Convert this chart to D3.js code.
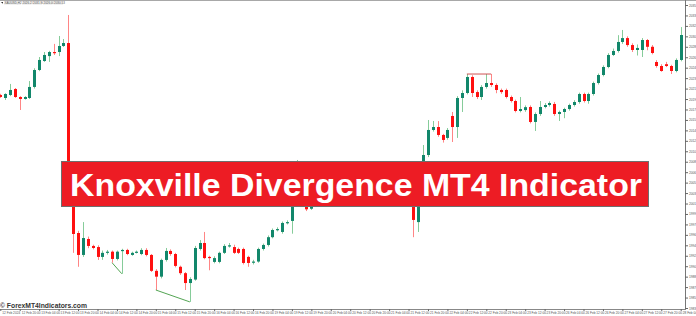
<!DOCTYPE html>
<html>
<head>
<meta charset="utf-8">
<script src="https://cdn.jsdelivr.net/npm/d3@7"></script>
<style>
  html, body { margin: 0; padding: 0; background: #fff; }
  svg { display: block; }
</style>
</head>
<body>
<div id="chart"></div>
<script>
// XAUUSD H2 candles (index = bar number from the left)
var opens = [2020.2,2019.68,2020.2,2021.23,2019.85,2019.51,2019.68,2021.58,2024.5,2026.05,2026.9,2027.6,2027.6,2028.64,2029.15,2001.0,1996.42,1992.64,1995.39,1994.19,
  1994.0,1992.3,1993.0,1993.2,1991.95,1993.3,1993.5,1992.64,1993.1,1992.8,1993.5,1992.64,1989.9,1988.9,1991.78,1993.33,1992.8,1990.6,1989.5,1987.8,
  1988.4,1993.67,1994.7,1992.3,1991.44,1991.44,1993.0,1994.19,1994.0,1993.67,1993.67,1992.3,1991.3,1991.5,1993.67,1994.36,1995.7,1996.9,1996.6,1998.15,
  1998.5,2002.0,2005.5,2003.0,2000.6,2001.5,2003.0,2004.5,2003.6,2005.8,2006.9,2005.9,2004.8,2005.5,2004.2,2004.9,2006.3,2007.0,2006.1,2006.8,
  2005.4,2005.9,2004.6,2005.3,2004.0,2003.0,1998.3,2003.5,2009.86,2014.17,2014.68,2013.31,2012.8,2016.58,2014.68,2019.68,2020.54,2023.3,2020.7,2019.85,
  2021.58,2022.26,2021.92,2021.06,2021.06,2019.85,2019.16,2017.44,2017.6,2018.13,2015.55,2016.92,2018.13,2018.47,2018.65,2016.92,2017.27,2017.78,2018.47,2018.99,
  2020.37,2019.16,2020.37,2022.26,2023.64,2025.02,2027.09,2027.78,2029.33,2030.0,2028.8,2027.95,2027.95,2029.67,2028.5,2025.88,2025.19,2025.5,2025.19,2024.33,
  2026.23];
var highs = [2020.4,2020.5,2022.1,2021.4,2020.0,2020.0,2022.6,2024.8,2026.74,2027.6,2027.8,2029.0,2030.36,2029.84,2033.98,2001.5,1996.8,1998.3,1995.8,1994.4,
  1994.3,1993.4,1993.5,1993.4,1993.4,1993.7,1993.7,1993.2,1993.4,1993.8,1993.8,1992.8,1990.2,1992.0,1993.84,1993.6,1993.0,1990.8,1989.7,1988.8,
  1994.2,1995.2,1996.6,1992.5,1992.4,1993.2,1994.5,1994.7,1994.4,1993.9,1993.9,1992.5,1991.8,1993.9,1994.6,1996.0,1997.2,1997.4,1998.4,1998.6,
  2003.0,2009.0,2006.5,2003.4,2002.5,2003.5,2005.0,2005.2,2006.3,2007.5,2007.3,2006.2,2006.0,2005.8,2005.3,2006.7,2007.6,2007.4,2007.2,2007.1,
  2006.3,2006.2,2005.7,2005.6,2004.4,2003.5,2005.0,2011.58,2015.89,2015.72,2015.7,2013.5,2014.5,2017.27,2020.0,2021.0,2023.81,2023.6,2021.0,2021.9,
  2023.81,2023.81,2022.2,2021.3,2021.3,2020.1,2019.4,2019.85,2018.4,2018.4,2017.2,2019.16,2018.8,2019.1,2019.0,2017.5,2018.0,2018.7,2019.3,2020.6,
  2020.6,2020.6,2022.5,2023.9,2025.3,2027.4,2028.2,2030.5,2031.4,2030.3,2029.1,2028.9,2030.0,2029.84,2028.8,2026.2,2025.5,2025.9,2025.4,2026.5,
  2031.9];
var lows = [2019.7,2019.34,2020.0,2019.7,2017.61,2019.4,2019.5,2021.3,2024.3,2025.9,2025.9,2027.09,2026.9,2028.47,2001.6,1993.0,1990.6,1992.3,1993.8,1993.6,
  1991.78,1991.8,1992.7,1991.3,1991.7,1989.4,1992.6,1992.5,1992.9,1992.6,1992.4,1989.7,1986.6,1988.6,1991.5,1992.5,1990.5,1989.2,1986.6,1984.55,
  1988.2,1993.4,1991.9,1990.0,1991.2,1991.2,1992.8,1993.9,1992.8,1992.8,1991.0,1990.6,1991.0,1991.3,1993.4,1994.1,1995.5,1996.7,1996.3,1997.9,
  1996.3,2001.5,2002.0,2000.2,2000.4,2001.2,2002.6,2003.2,2003.3,2005.4,2005.5,2004.3,2004.5,2003.8,2003.9,2004.6,2006.0,2005.7,2005.8,2005.0,
  2005.1,2004.2,2004.3,2003.6,2001.5,1995.7,1996.6,2003.0,2009.5,2013.9,2013.0,2012.0,2012.5,2012.1,2012.8,2017.27,2020.3,2019.85,2019.5,2019.34,
  2021.3,2021.6,2020.5,2020.4,2019.6,2018.9,2017.2,2017.2,2017.3,2015.3,2014.0,2016.6,2017.9,2018.2,2016.6,2015.72,2016.2,2017.5,2018.2,2018.7,
  2018.9,2018.7,2020.1,2022.0,2023.4,2024.8,2026.9,2027.5,2029.0,2028.5,2027.6,2027.0,2026.74,2027.9,2027.2,2024.9,2024.2,2025.0,2023.81,2024.1,
  2026.0];
var closes = [2019.85,2020.37,2021.06,2019.85,2019.51,2019.85,2021.58,2024.5,2026.23,2027.09,2027.6,2027.5,2028.64,2029.15,2002.1,1996.25,1992.64,1995.56,1994.19,1993.84,
  1992.3,1993.0,1993.2,1991.95,1993.2,1993.5,1992.8,1993.0,1993.2,1993.5,1992.64,1989.9,1988.9,1991.78,1993.33,1992.8,1990.75,1989.5,1987.8,1988.5,
  1993.84,1994.7,1992.1,1992.1,1992.1,1993.0,1994.19,1994.3,1993.0,1993.0,1991.26,1991.26,1991.5,1993.67,1994.36,1995.7,1996.94,1997.1,1998.15,1998.3,
  2002.0,2005.5,2003.0,2000.5,2001.5,2003.0,2004.5,2003.6,2005.8,2006.9,2005.9,2004.8,2005.5,2004.2,2004.9,2006.3,2007.0,2006.1,2006.8,2005.4,
  2005.9,2004.6,2005.3,2004.0,2003.2,1998.67,2003.5,2009.86,2014.17,2014.68,2013.31,2012.45,2014.17,2014.68,2019.68,2020.54,2023.3,2020.54,2019.85,2021.58,
  2022.26,2021.92,2021.06,2020.7,2019.85,2019.16,2017.44,2017.78,2018.1,2015.55,2016.92,2018.13,2018.47,2018.82,2016.92,2017.27,2017.78,2018.47,2018.99,2020.37,
  2019.16,2020.37,2022.26,2023.64,2025.02,2027.09,2027.78,2029.33,2030.0,2028.8,2027.95,2028.3,2029.67,2028.5,2027.43,2025.19,2024.33,2025.19,2024.33,2026.23,
  2030.53];

// Knoxville divergence segments: [bar, price]
var bullLineA = [[23, 1991.3], [25, 1989.4]];
var bullLineB = [[32, 1986.6], [39, 1984.55]];
var bearLine = [[96, 2023.81], [101, 2023.81]];

var priceTicks = [2035.70,2033.90,2032.10,2030.30,2028.50,2026.70,2024.90,2023.10,2021.30,2019.50,2017.70,2015.90,2014.10,2012.30,2010.50,
  2008.70,2006.90,2005.10,2003.30,2001.50,1999.70,1997.90,1996.10,1994.30,1992.50,1990.70,1988.90,1987.10,1985.30,1983.50];
var timeLabels = ['12 Feb 2024','12 Feb 20:00','13 Feb 04:00','13 Feb 12:00','13 Feb 20:00','14 Feb 04:00','14 Feb 12:00','14 Feb 20:00',
  '15 Feb 04:00','15 Feb 12:00','15 Feb 20:00','16 Feb 04:00','16 Feb 12:00','16 Feb 20:00','19 Feb 04:00','19 Feb 12:00','19 Feb 20:00',
  '20 Feb 04:00','20 Feb 12:00','20 Feb 20:00','21 Feb 04:00','21 Feb 12:00','21 Feb 20:00','22 Feb 04:00','22 Feb 12:00','22 Feb 20:00',
  '23 Feb 04:00','23 Feb 12:00','23 Feb 20:00','26 Feb 04:00','26 Feb 12:00','26 Feb 20:00','27 Feb 04:00','27 Feb 12:00','27 Feb 20:00','28 Feb 04:00'];
var headerText = ['XAUUSD,H2', '2026.23', '2031.90', '2026.00', '2030.53'];
var bannerTitle = 'Knoxville Divergence MT4 Indicator';
var watermark = '\u00a9 ForexMT4Indicators.com';

var W = 696, H = 316;
var plotRight = 685, plotBottom = 309;

var svg = d3.select('#chart').append('svg')
    .attr('width', W)
    .attr('height', H)
    .style('font-family', 'Liberation Sans, Arial, sans-serif');

svg.append('rect').attr('width', W).attr('height', H).attr('fill', '#fff');

var x = d3.scaleLinear()
    .domain([0, opens.length - 1])
    .range([0.3, 680.7]);
var y = d3.scaleLinear()
    .domain([1983.5, 2035.7])
    .range([308, 5]);

var bars = opens.map(function (o, i) {
    return { i: i, o: o, h: highs[i], l: lows[i], c: closes[i] };
});

// frame
svg.append('line').attr('x1', 0).attr('x2', W).attr('y1', 0.5).attr('y2', 0.5)
    .attr('stroke', '#a8a8a8');

// wicks
svg.append('g').selectAll('line')
    .data(bars)
    .join('line')
    .attr('x1', d => Math.round(x(d.i)) + 0.5)
    .attr('x2', d => Math.round(x(d.i)) + 0.5)
    .attr('y1', d => y(d.h))
    .attr('y2', d => y(d.l))
    .attr('stroke', d => d.c >= d.o ? '#86cc9a' : '#ff8585')
    .attr('stroke-width', 1);

// bodies
svg.append('g').selectAll('rect')
    .data(bars)
    .join('rect')
    .attr('x', d => Math.round(x(d.i)) - 1)
    .attr('width', 3)
    .attr('y', d => y(Math.max(d.o, d.c)))
    .attr('height', d => Math.max(1.2, Math.abs(y(d.o) - y(d.c))))
    .attr('fill', d => d.c >= d.o ? '#12876b' : '#ff1010');

// divergence lines
var seg = d3.line().x(d => x(d[0])).y(d => y(d[1]));
[bullLineA, bullLineB].forEach(function (l) {
    svg.append('path').attr('d', seg(l)).attr('fill', 'none')
        .attr('stroke', '#3f9a3f').attr('stroke-width', 0.9);
});
svg.append('path').attr('d', seg(bearLine)).attr('fill', 'none')
    .attr('stroke', '#c84040').attr('stroke-width', 0.9);

// right price axis (labels run off the right edge, as in the screenshot)
var yAxis = d3.axisRight(y).tickValues(priceTicks).tickSize(3).tickFormat(d3.format('.2f'));
var ya = svg.append('g').attr('transform', 'translate(' + plotRight + ',0)').call(yAxis);
ya.select('.domain').attr('stroke', '#777').attr('d', 'M0.5,0V' + plotBottom);
ya.selectAll('.tick line').attr('stroke', '#666');
ya.selectAll('.tick text').attr('x', 4).attr('fill', '#555')
    .style('font-size', '3.2px');

// bottom time axis
var xAxis = d3.axisBottom(x).tickValues(d3.range(0, opens.length, 4)).tickSize(2)
    .tickFormat((d, i) => timeLabels[i]);
var xa = svg.append('g').attr('transform', 'translate(0,' + plotBottom + ')').call(xAxis);
xa.select('.domain').attr('stroke', '#888').attr('d', 'M0,0.5H' + (plotRight + 1));
xa.selectAll('.tick line').attr('stroke', '#666');
xa.selectAll('.tick text').attr('text-anchor', 'start').attr('x', 1.5).attr('y', 2.3)
    .attr('fill', '#555').style('font-size', '3.2px');

// header line
var hx = 4;
svg.append('path').attr('d', 'M0.8,2H3V3.8Z').attr('fill', '#333');
headerText.forEach(function (t, k) {
    var w = k === 0 ? 18 : 10.5;
    svg.append('rect').attr('x', hx).attr('y', 1.2).attr('width', w - 1).attr('height', 3.6).attr('fill', '#eee');
    svg.append('text').attr('x', hx + 0.5).attr('y', 4).attr('fill', '#555')
        .style('font-size', '3px').text(t);
    hx += w;
});

// banner
svg.append('rect')
    .attr('x', 61.5).attr('y', 161.5).attr('width', 587).attr('height', 45)
    .attr('fill', '#ed1c24').attr('stroke', '#6e6e6e').attr('stroke-width', 1);
svg.append('text')
    .attr('x', 70).attr('y', 196)
    .attr('textLength', 572).attr('lengthAdjust', 'spacingAndGlyphs')
    .attr('fill', '#fff').style('font-weight', 'bold').style('font-size', '32px')
    .text(bannerTitle);

// watermark
svg.append('text')
    .attr('x', 0).attr('y', 307.5)
    .attr('textLength', 87).attr('lengthAdjust', 'spacingAndGlyphs')
    .attr('fill', '#333').style('font-weight', 'bold').style('font-size', '7.5px')
    .text(watermark);
</script>
</body>
</html>
